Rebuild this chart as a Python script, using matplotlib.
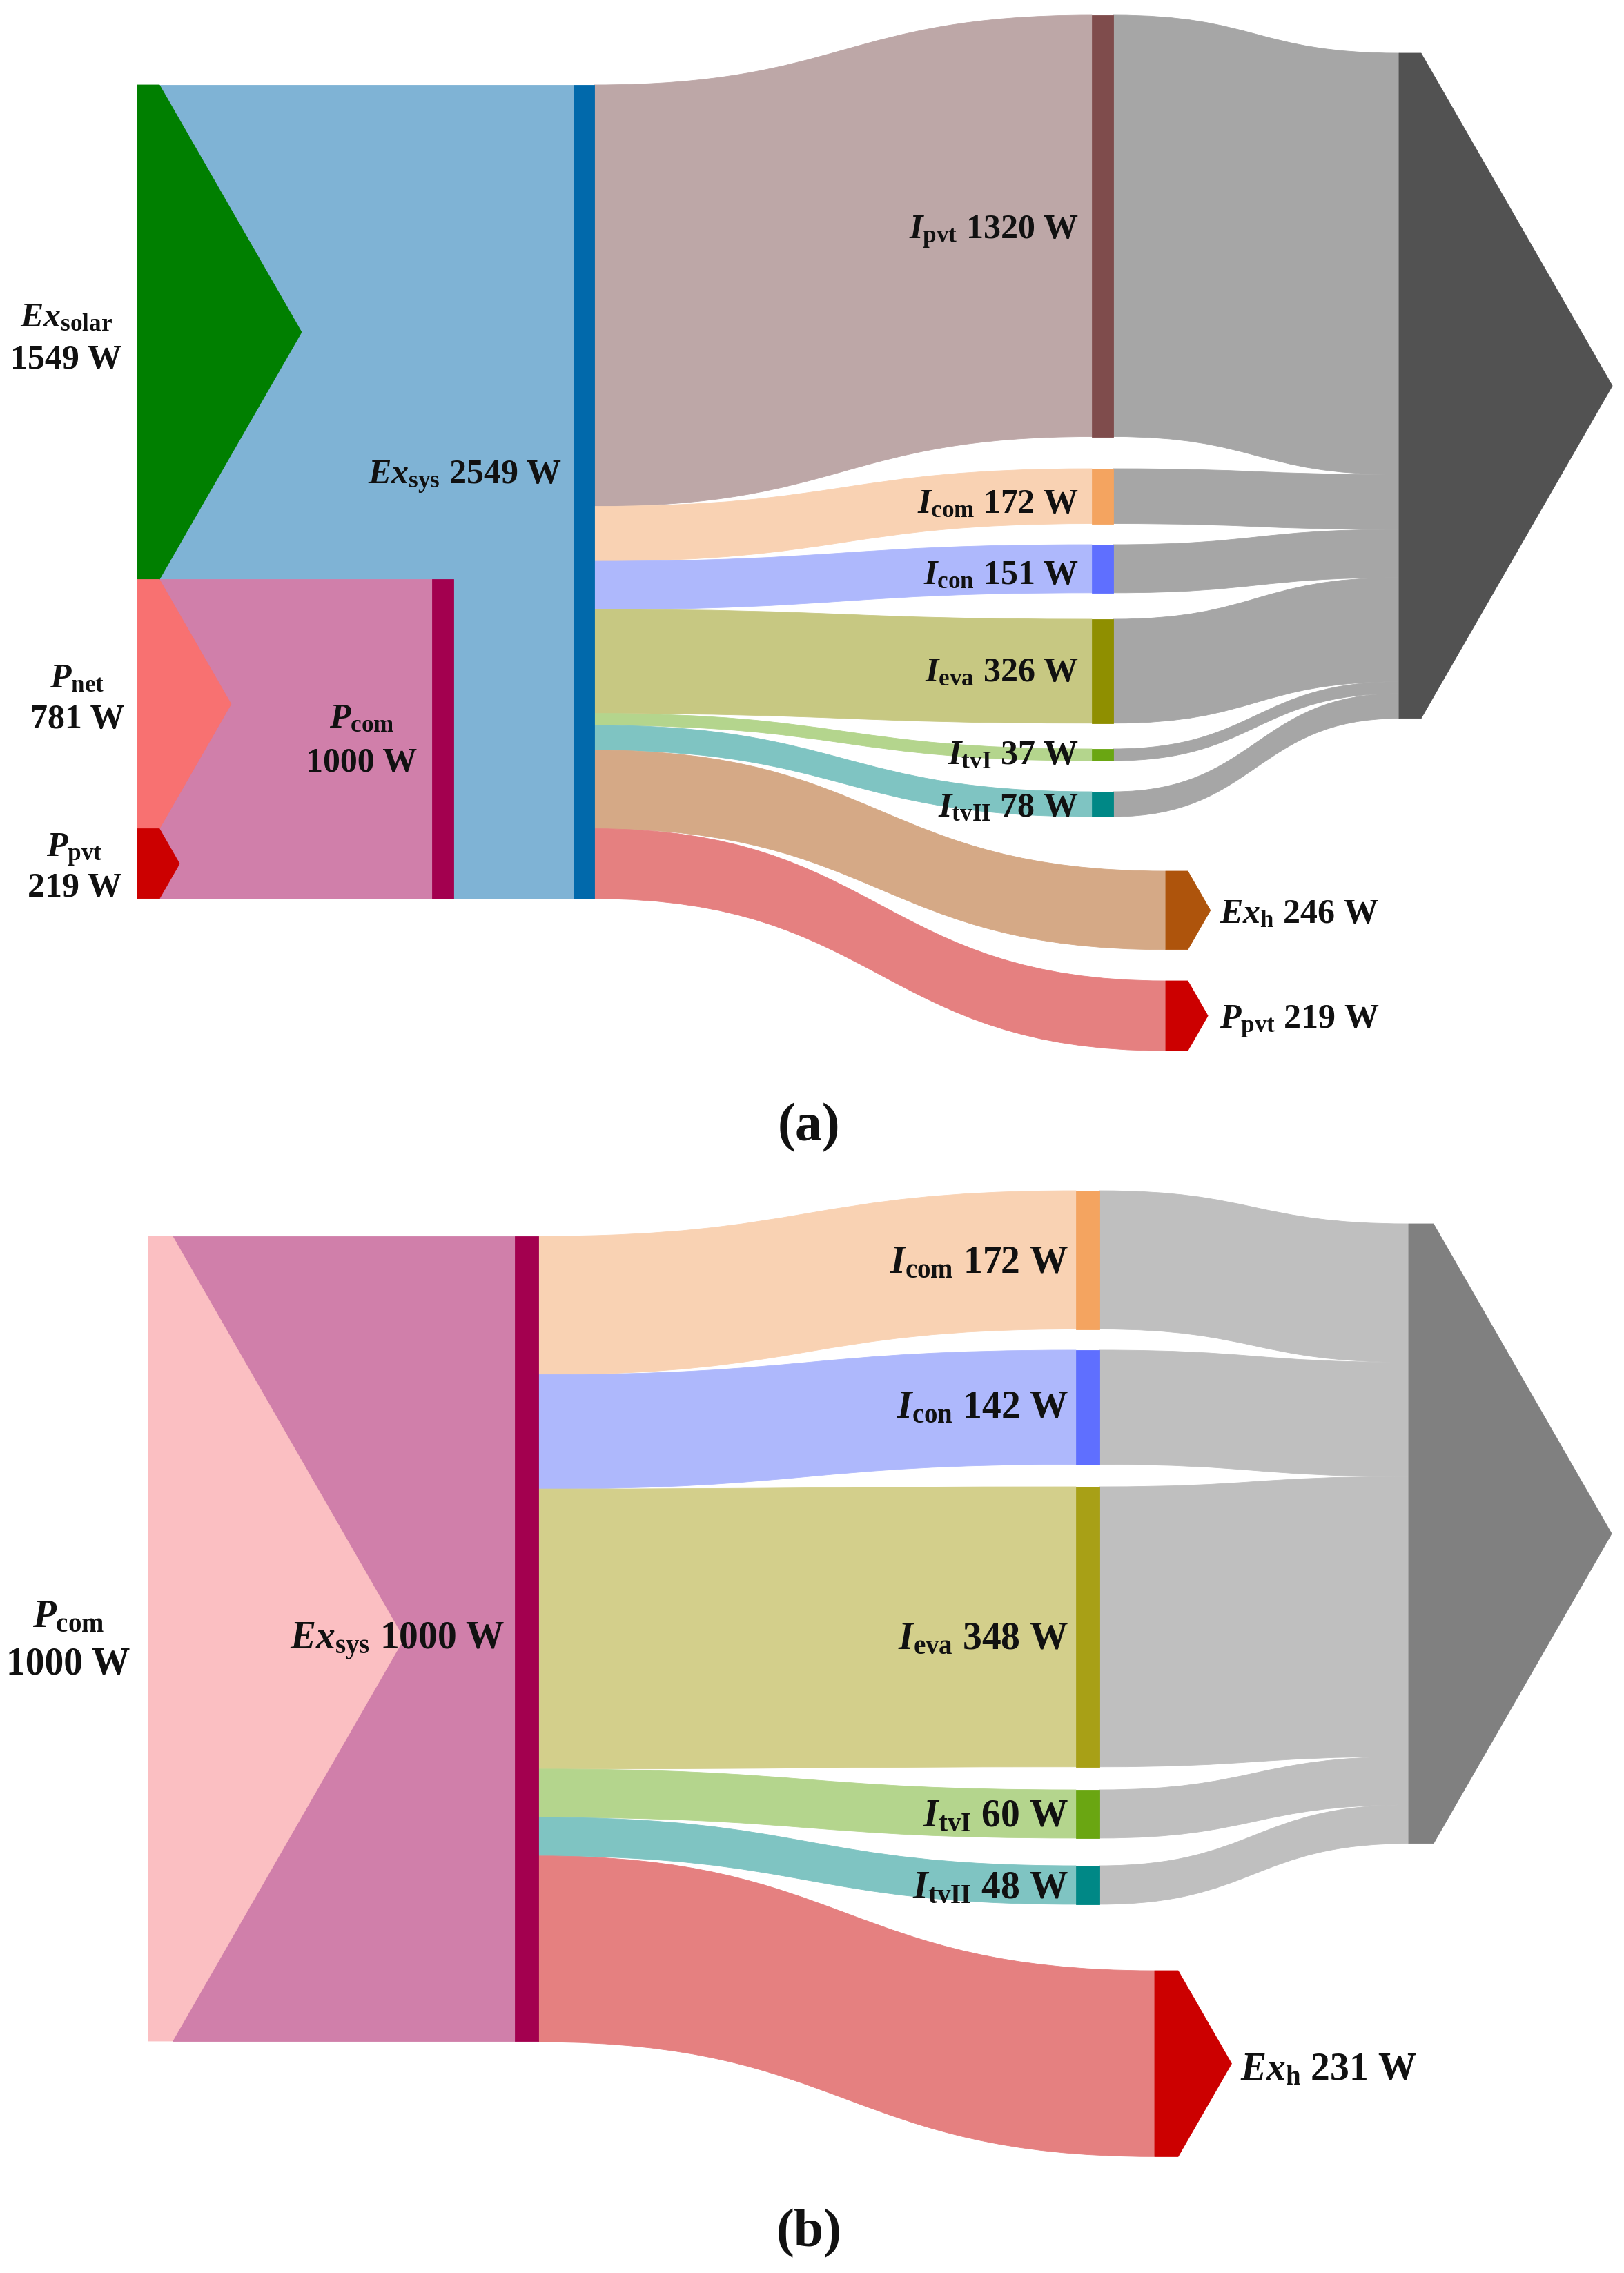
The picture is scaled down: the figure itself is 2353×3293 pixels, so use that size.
import matplotlib
matplotlib.use("Agg")
import matplotlib.pyplot as plt
from matplotlib.path import Path
from matplotlib.patches import PathPatch, Polygon, Rectangle

plt.rcParams['font.family'] = ['Liberation Serif', 'DejaVu Serif']
plt.rcParams['mathtext.fontset'] = 'custom'
plt.rcParams['mathtext.rm'] = 'Liberation Serif:bold'
plt.rcParams['mathtext.it'] = 'Liberation Serif:italic:bold'
plt.rcParams['mathtext.bf'] = 'Liberation Serif:bold'

# ---------------- data ----------------
a_src_names = [r"$Ex_{\mathrm{solar}}$", r"$P_{\mathrm{net}}$", r"$P_{\mathrm{pvt}}$"]
a_src_vals = [1549, 781, 219]
a_pcom_name = r"$P_{\mathrm{com}}$"
a_pcom_val = 1000
a_exsys_name = r"$Ex_{\mathrm{sys}}$"
a_exsys_val = 2549
a_out_names = [r"$I_{\mathrm{pvt}}$", r"$I_{\mathrm{com}}$", r"$I_{\mathrm{con}}$", r"$I_{\mathrm{eva}}$",
               r"$I_{\mathrm{tvI}}$", r"$I_{\mathrm{tvII}}$", r"$Ex_{\mathrm{h}}$", r"$P_{\mathrm{pvt}}$"]
a_out_vals = [1320, 172, 151, 326, 37, 78, 246, 219]

b_src_name = r"$P_{\mathrm{com}}$"
b_src_val = 1000
b_exsys_name = r"$Ex_{\mathrm{sys}}$"
b_exsys_val = 1000
b_out_names = [r"$I_{\mathrm{com}}$", r"$I_{\mathrm{con}}$", r"$I_{\mathrm{eva}}$",
               r"$I_{\mathrm{tvI}}$", r"$I_{\mathrm{tvII}}$", r"$Ex_{\mathrm{h}}$"]
b_out_vals = [172, 142, 348, 60, 48, 231]

# ---------------- styles ----------------
a_src_colors = ["#007F00", "#F87171", "#CC0000"]
a_out_band = ["#BDA7A7", "#F9D2B3", "#AEB8FC", "#C7C882", "#B4D58D", "#7FC4C2", "#D5A986", "#E58080"]
a_out_node = ["#7F4C4C", "#F4A460", "#5F6FFF", "#8F8F00", "#6AA612", "#008886", "#AE540C", "#CC0000"]
b_out_band = ["#F9D2B3", "#AEB8FC", "#D3CF8B", "#B4D58D", "#7FC4C2", "#E58080"]
b_out_node = ["#F4A460", "#5F6FFF", "#A8A016", "#6AA612", "#008886", "#CC0000"]
BLUE_BAND, BLUE_BAR = "#7FB3D5", "#0169AB"
MAUVE_BAND, MAUVE_BAR = "#D07FAA", "#A3004F"

W, H = 2353, 3293
fig = plt.figure(figsize=(W / 100, H / 100), dpi=100)
ax = fig.add_axes([0, 0, 1, 1])
ax.set_xlim(0, W)
ax.set_ylim(H, 0)
ax.axis("off")


def band(x0, y0a, y0b, x1, y1a, y1b, color, z=1):
    xm = (x0 + x1) / 2
    verts = [(x0, y0a), (xm, y0a), (xm, y1a), (x1, y1a),
             (x1, y1b), (xm, y1b), (xm, y0b), (x0, y0b), (x0, y0a)]
    codes = [Path.MOVETO, Path.CURVE4, Path.CURVE4, Path.CURVE4,
             Path.LINETO, Path.CURVE4, Path.CURVE4, Path.CURVE4, Path.CLOSEPOLY]
    ax.add_patch(PathPatch(Path(verts, codes), facecolor=color, edgecolor=color, lw=0.6, zorder=z))


def rect(x0, x1, y0, h, color, z=3):
    ax.add_patch(Rectangle((x0, y0), x1 - x0, h, facecolor=color, edgecolor=color, lw=0.6, zorder=z))


def arrow(x0, x1, y0, h, color, ratio=0.575, z=3):
    pts = [(x0, y0), (x1, y0), (x1 + ratio * h / 2, y0 + h / 2), (x1, y0 + h), (x0, y0 + h)]
    ax.add_patch(Polygon(pts, closed=True, facecolor=color, edgecolor=color, lw=0.6, zorder=z))


def label(x, y, s, ha, size):
    ax.text(x, y, s, ha=ha, va="baseline", fontsize=size, fontweight="bold", color="#111111", zorder=10)


# ================= panel (a) =================
SA = 0.4625
A_TOP = 123
a_src_x = (199, 231)
a_pcom_x = (626, 657)
a_bar_x = (831, 861)
a_node_x = [(1582, 1613)] * 6 + [(1689, 1721)] * 2
a_out_tops = [22, 679, 789, 897, 1085, 1147, 1262, 1421]
a_gray_x = (2027, 2059)
a_gray_top = 77
FA = 36

# sources
y = A_TOP
src_tops = []
for v in a_src_vals:
    src_tops.append(y)
    y += v * SA
# Ex_solar -> Ex_sys (blue band)
rect(a_src_x[1], a_bar_x[0], src_tops[0], a_src_vals[0] * SA, BLUE_BAND, z=1)
# P_net, P_pvt -> P_com (mauve)
for i in (1, 2):
    rect(a_src_x[1], a_pcom_x[0], src_tops[i], a_src_vals[i] * SA, MAUVE_BAND, z=1)
pcom_top = src_tops[1]
rect(a_pcom_x[0], a_pcom_x[1], pcom_top, a_pcom_val * SA, MAUVE_BAR)
rect(a_pcom_x[1], a_bar_x[0], pcom_top, a_pcom_val * SA, BLUE_BAND, z=1)
for i, v in enumerate(a_src_vals):
    arrow(a_src_x[0], a_src_x[1], src_tops[i], v * SA, a_src_colors[i])
rect(a_bar_x[0], a_bar_x[1], A_TOP, a_exsys_val * SA, BLUE_BAR)

# outputs
y = A_TOP
gy = a_gray_top
for i, v in enumerate(a_out_vals):
    h = v * SA
    nx0, nx1 = a_node_x[i]
    t = a_out_tops[i]
    band(a_bar_x[1], y, y + h, nx0, t, t + h, a_out_band[i])
    if i < 6:
        rect(nx0, nx1, t, h, a_out_node[i])
        band(nx1, t, t + h, a_gray_x[0], gy, gy + h, "#A6A6A6")
        gy += h
    else:
        arrow(nx0, nx1, t, h, a_out_node[i])
    y += h
arrow(a_gray_x[0], a_gray_x[1], a_gray_top, gy - a_gray_top, "#525252")

# labels (a)
src_lab_x = [96, 112, 108]
src_lab_y = [(473, 534), (996, 1055), (1241, 1299)]
for i, v in enumerate(a_src_vals):
    label(src_lab_x[i], src_lab_y[i][0], a_src_names[i], "center", FA)
    label(src_lab_x[i], src_lab_y[i][1], f"{v} W", "center", FA)
label(524, 1054, a_pcom_name, "center", FA)
label(524, 1118, f"{a_pcom_val} W", "center", FA)
label(814, 701, f"{a_exsys_name} {a_exsys_val} W", "right", FA)
a_lab_y = [346, 743, 846, 987, 1107, 1183, 1337, 1490]
for i, v in enumerate(a_out_vals):
    if i < 6:
        label(1563, a_lab_y[i], f"{a_out_names[i]} {v} W", "right", FA)
    else:
        label(1767, a_lab_y[i], f"{a_out_names[i]} {v} W", "left", FA)
ax.text(1172, 1634, "(a)", ha="center", va="center", fontsize=56, fontweight="bold", color="#111111")

# ================= panel (b) =================
SB = 1.166
B_TOP = 1791
b_src_x = (215, 250)
b_bar_x = (746, 780)
b_node_x = [(1559, 1593)] * 5 + [(1673, 1707)]
b_out_tops = [1725, 1956, 2154, 2593, 2703, 2855]
b_gray_x = (2041, 2077)
b_gray_top = 1773
FB = 40

rect(b_src_x[1], b_bar_x[0], B_TOP, b_src_val * SB, MAUVE_BAND, z=1)
arrow(b_src_x[0], b_src_x[1], B_TOP, b_src_val * SB, "#FBBFC2")
rect(b_bar_x[0], b_bar_x[1], B_TOP, b_exsys_val * SB, MAUVE_BAR)

y = B_TOP
gy = b_gray_top
for i, v in enumerate(b_out_vals):
    h = v * SB
    nx0, nx1 = b_node_x[i]
    t = b_out_tops[i]
    band(b_bar_x[1], y, y + h, nx0, t, t + h, b_out_band[i])
    if i < 5:
        rect(nx0, nx1, t, h, b_out_node[i])
        band(nx1, t, t + h, b_gray_x[0], gy, gy + h, "#BFBFBF")
        gy += h
    else:
        arrow(nx0, nx1, t, h, b_out_node[i])
    y += h
arrow(b_gray_x[0], b_gray_x[1], b_gray_top, gy - b_gray_top, "#808080")

label(99, 2357, b_src_name, "center", FB)
label(99, 2426, f"{b_src_val} W", "center", FB)
label(732, 2389, f"{b_exsys_name} {b_exsys_val} W", "right", FB)
b_lab_y = [1844, 2054, 2389, 2646, 2750, 3013]
for i, v in enumerate(b_out_vals):
    if i < 5:
        label(1548, b_lab_y[i], f"{b_out_names[i]} {v} W", "right", FB)
    else:
        label(1797, b_lab_y[i], f"{b_out_names[i]} {v} W", "left", FB)
ax.text(1172, 3236, "(b)", ha="center", va="center", fontsize=56, fontweight="bold", color="#111111")

fig.savefig("out.png", dpi=100, facecolor="white")
